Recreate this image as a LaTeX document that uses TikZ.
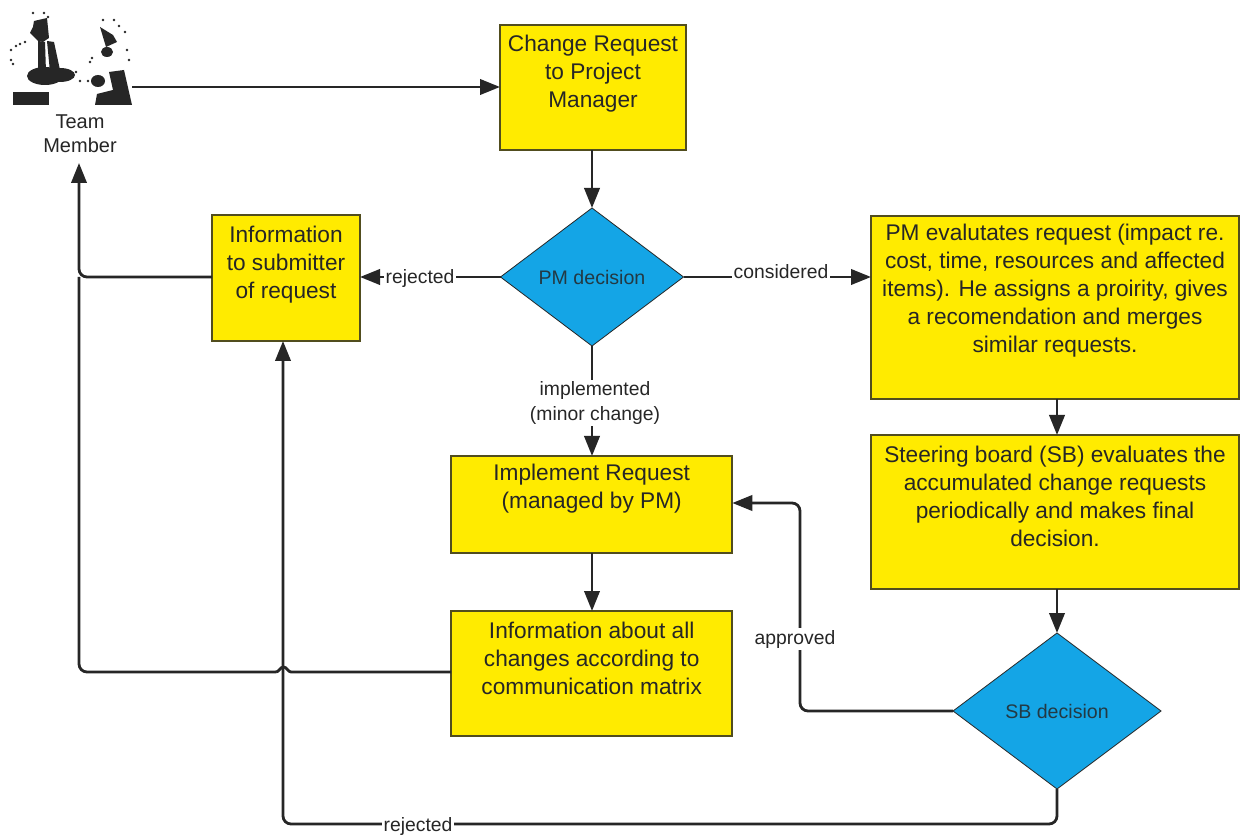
\documentclass[tikz,border=0pt]{standalone}
\usepackage{fontspec}
\setmainfont{Liberation Sans}
\usetikzlibrary{arrows.meta,shapes.geometric,calc}
\definecolor{boxy}{HTML}{FFEB00}
\definecolor{dia}{HTML}{14A5E6}
\definecolor{ink}{HTML}{262626}
\tikzset{
 x=0.75pt,y=-0.75pt,
 boxn/.style={draw=ink!80!boxy,line width=1.3pt,fill=boxy,inner sep=0pt,outer sep=0pt,align=center,font=\fontsize{17}{21}\selectfont,text=ink},
 dian/.style={diamond,draw=ink,line width=0.6pt,fill=dia,inner sep=0pt,outer sep=0pt,align=center,font=\fontsize{14.7}{17}\selectfont,text=ink!85!dia},
 conn/.style={draw=ink,line width=2.1pt,rounded corners=6pt,-{Triangle[length=15pt,width=11.5pt]}},
 conp/.style={draw=ink,line width=2.1pt,rounded corners=6pt},
 jump/.style={draw=ink,line width=2.1pt},
 lab/.style={fill=white,inner sep=1.5pt,font=\fontsize{14.5}{18.5}\selectfont,text=ink,align=center},
 iconp/.style={fill=ink,draw=none},
}
\begin{document}
\begin{tikzpicture}
\useasboundingbox (0,0) rectangle (1245,837);
\fill[white] (0,0) rectangle (1245,837);
% boxes
\node[boxn,minimum width=139.5pt,minimum height=93.75pt,anchor=north west] (cr) at (500,25) {Change Request\\to Project\\Manager\\[3pt]};
\node[boxn,minimum width=111pt,minimum height=94.5pt,anchor=north west] (inf) at (212,215) {Information\\to submitter\\of request\\[3pt]};
\node[boxn,minimum width=276pt,minimum height=137.25pt,anchor=north west] (ev) at (871,216) {PM evalutates request (impact re.\\cost, time, resources and affected\\items). He assigns a proirity, gives\\a recomendation and merges\\similar requests.\\[8pt]};
\node[boxn,minimum width=276pt,minimum height=115.5pt,anchor=north west] (sb) at (871,435) {Steering board (SB) evaluates the\\accumulated change requests\\periodically and makes final\\decision.\\[2pt]};
\node[boxn,minimum width=211pt,minimum height=72.75pt,anchor=north west] (imp) at (451,456) {Implement Request\\(managed by PM)\\[6pt]};
\node[boxn,minimum width=211pt,minimum height=93.75pt,anchor=north west] (all) at (451,611) {Information about all\\changes according to\\communication matrix\\[1.5pt]};
% diamonds
\node[dian,minimum width=137.25pt,minimum height=103.5pt] (pm) at (592,277) {PM decision};
\node[dian,minimum width=156pt,minimum height=117pt] (sbd) at (1057,711) {SB decision};
% team member icon
\node[inner sep=0pt,align=center,font=\fontsize{15}{18}\selectfont,text=ink] (tm) at (80,134) {Team\\Member};
\coordinate (tmR) at (132,87);
\coordinate (tmB) at (79,163);
\fill[iconp] (34,21) -- (47,18) -- (49,38) -- (43,42) -- (38,41) -- (30,33) -- (33,27) -- cycle;
\fill[iconp] (38,41) -- (45,42) -- (46,72) -- (38,74) -- cycle;
\fill[iconp] (47,41) -- (54,42) -- (60,70) -- (50,72) -- cycle;
\fill[iconp] (45,76) ellipse [x radius=18,y radius=9];
\fill[iconp] (60,75) ellipse [x radius=15,y radius=7];
\fill[iconp] (13,92) rectangle (49,105);
\fill[iconp] (100,27) -- (113,35) -- (117,42) -- (106,47) -- cycle;
\fill[iconp] (107,52) ellipse [x radius=6,y radius=5];
\fill[iconp] (98,81) ellipse [x radius=7,y radius=6];
\fill[iconp] (95,105) -- (97,94) -- (113,90) -- (109,72) -- (124,70) -- (132,105) -- cycle;
\foreach \p in {(33,13),(44,13),(48,17),(25,42),(20,44),(11,50),(11,60),(13,64),(76,72),(80,81),(88,81),(90,62),(103,20),(114,20),(119,26),(125,32),(127,50),(129,60),(16,46),(92,58)}
  \fill[ink] \p circle [radius=1.3];
% connectors
\coordinate (j1) at (79,277);
\coordinate (j2) at (79,672);
\coordinate (a1) at (800,711);
\coordinate (a2) at (800,503);
\coordinate (r1) at (1057,824);
\coordinate (r2) at (283,824);
\coordinate (h1) at (291,672);
\coordinate (h2) at (276,672);
\draw[conn] (tmR) -- (cr.west |- tmR);
\draw[conn] (cr.south -| pm.north) -- (pm.north);
\draw[conn] (pm.west) -- (inf.east |- pm.west);
\draw[conn] (pm.east) -- (ev.west |- pm.east);
\draw[conn] (pm.south) -- (imp.north -| pm.south);
\draw[conn] (imp.south -| pm.south) -- (all.north -| pm.south);
\draw[conn] (ev.south -| sbd.north) -- (sb.north -| sbd.north);
\draw[conn] (sb.south -| sbd.north) -- (sbd.north);
\draw[conn] (inf.west |- j1) -- (j1) -- (tmB);
\draw[jump] (all.west |- h1) -- (h1) .. controls (288,672) and (287,667) .. (283.5,667) .. controls (280,667) and (279,672) .. (h2);
\draw[conp] (h2) -- (j2) -- (j1);
\draw[conn] (sbd.west) -- (a1) -- (a2) -- (imp.east |- a2);
\draw[conn] (sbd.south) -- (r1) -- (r2) -- (r2 |- inf.south);
% labels
\node[lab] (l1) at (420,279) {rejected};
\node[lab] (l2) at (781,272) {considered};
\node[lab] (l3) at (595,403) {implemented\\(minor change)};
\node[lab] (l4) at (795,639) {approved};
\node[lab] (l5) at (418,826) {rejected};
\end{tikzpicture}
\end{document}
